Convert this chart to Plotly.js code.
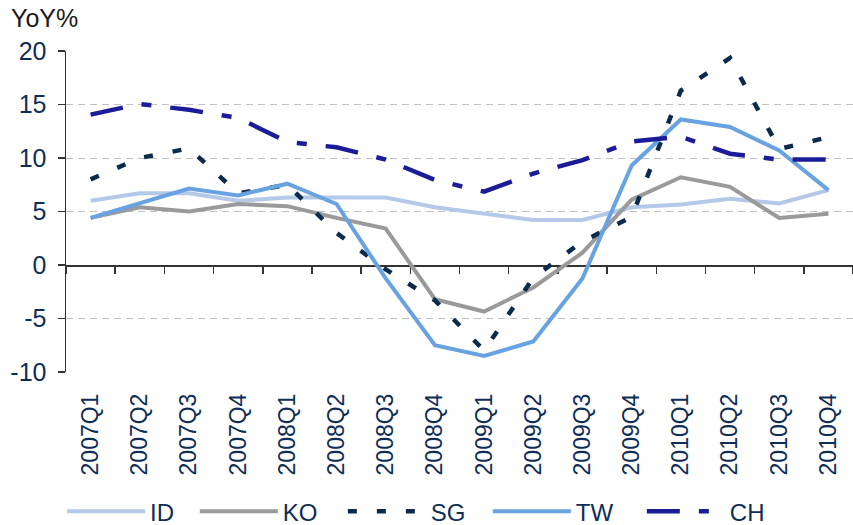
<!DOCTYPE html>
<html>
<head>
<meta charset="utf-8">
<script src="https://cdn.plot.ly/plotly-3.0.1.min.js"></script>
<style>html,body{margin:0;padding:0;background:#fff;}#chart{width:853px;height:525px;}</style>
</head>
<body>
<div id="chart"></div>
<script>
const quarters = ['2007Q1','2007Q2','2007Q3','2007Q4','2008Q1','2008Q2','2008Q3','2008Q4',
                  '2009Q1','2009Q2','2009Q3','2009Q4','2010Q1','2010Q2','2010Q3','2010Q4'];
const ID = [6.0, 6.7, 6.7, 6.0, 6.3, 6.3, 6.3, 5.4, 4.8, 4.2, 4.2, 5.4, 5.65, 6.2, 5.75, 7.0];
const KO = [4.4, 5.4, 5.0, 5.7, 5.5, 4.4, 3.4, -3.2, -4.35, -2.1, 1.15, 6.1, 8.2, 7.3, 4.4, 4.8];
const SG = [8.0, 10.0, 10.9, 6.7, 7.5, 3.0, -0.4, -3.3, -8.0, -1.2, 2.2, 4.5, 16.3, 19.35, 10.85, 11.95];
const TW = [4.4, 5.8, 7.15, 6.5, 7.6, 5.7, -1.25, -7.5, -8.5, -7.15, -1.25, 9.3, 13.6, 12.9, 10.7, 7.0];
const CH = [14.05, 15.05, 14.5, 13.75, 11.5, 11.0, 9.85, 7.95, 6.85, 8.55, 9.8, 11.55, 12.0, 10.4, 9.85, 9.85];
const yTicks = [-10, -5, 0, 5, 10, 15, 20];

const navy = '#0f2e57';
const font = 'Liberation Sans, Arial, sans-serif';

function line(name, y, color, width, dash, legend) {
  return {type: 'scatter', mode: 'lines', name: name, x: quarters, y: y, legend: legend,
          line: {color: color, width: width, dash: dash || 'solid'}, hoverinfo: 'skip'};
}

const traces = [
  line('ID', ID, '#b4c8e8', 4, 'solid', 'legend'),
  line('KO', KO, '#9a9a9a', 4, 'solid', 'legend2'),
  line('SG', SG, '#0c2a4c', 4.5, '9px,20px', 'legend3'),
  line('TW', TW, '#68a2e0', 4, 'solid', 'legend4'),
  line('CH', CH, '#1c1c98', 4.5, '33px,19px,10px,19px', 'legend5'),
  {type: 'scatter', mode: 'lines', x: quarters, y: quarters.map(() => null),
   xaxis: 'x2', yaxis: 'y', showlegend: false, hoverinfo: 'skip'}
];

function leg(x) {
  return {orientation: 'h', x: x, xanchor: 'left', y: -0.435, yanchor: 'middle',
          font: {size: 24, color: navy, family: font}, itemwidth: 78,
          bgcolor: 'rgba(0,0,0,0)'};
}

const layout = {
  width: 853, height: 525,
  margin: {l: 66, r: 0, t: 51, b: 153, autoexpand: false},
  paper_bgcolor: '#fff', plot_bgcolor: '#fff',
  font: {family: font, color: navy},
  title: {text: 'YoY%', font: {family: font, size: 25, color: '#1a1a1a'},
          x: 0.013, xanchor: 'left', xref: 'container', y: 0.966, yanchor: 'middle', yref: 'container'},
  xaxis: {type: 'category', categoryarray: quarters, range: [-0.5, 15.5], automargin: false,
          showgrid: false, zeroline: false, showline: false, ticks: '',
          tickangle: -90, tickfont: {size: 23, color: navy, family: font},
          ticklabelstandoff: 16},
  xaxis2: {type: 'category', categoryarray: quarters, range: [-0.5, 15.5], automargin: false,
           overlaying: 'x', anchor: 'free', position: 1/3, side: 'bottom',
           showgrid: false, zeroline: false, showline: true, linecolor: '#333', linewidth: 1.5,
           ticks: 'outside', tickson: 'boundaries', ticklen: 7, tickwidth: 1.5, tickcolor: '#333',
           showticklabels: false, layer: 'below traces'},
  yaxis: {range: [-10, 20], tickvals: yTicks, ticktext: yTicks.map(String), automargin: false,
          showgrid: true, gridcolor: '#c0c0c0', gridwidth: 1, griddash: '7px,5px',
          zeroline: false, showline: true, linecolor: '#333', linewidth: 1.5,
          ticks: 'outside', ticklen: 7, tickwidth: 1.5, tickcolor: '#333',
          tickfont: {size: 25, color: navy, family: font}, ticklabelstandoff: 6},
  showlegend: true,
  legend: leg(-0.005),
  legend2: leg(0.1637),
  legend3: leg(0.3518),
  legend4: leg(0.5360),
  legend5: leg(0.7317)
};

Plotly.newPlot('chart', traces, layout, {displayModeBar: false, staticPlot: true});
</script>
</body>
</html>
